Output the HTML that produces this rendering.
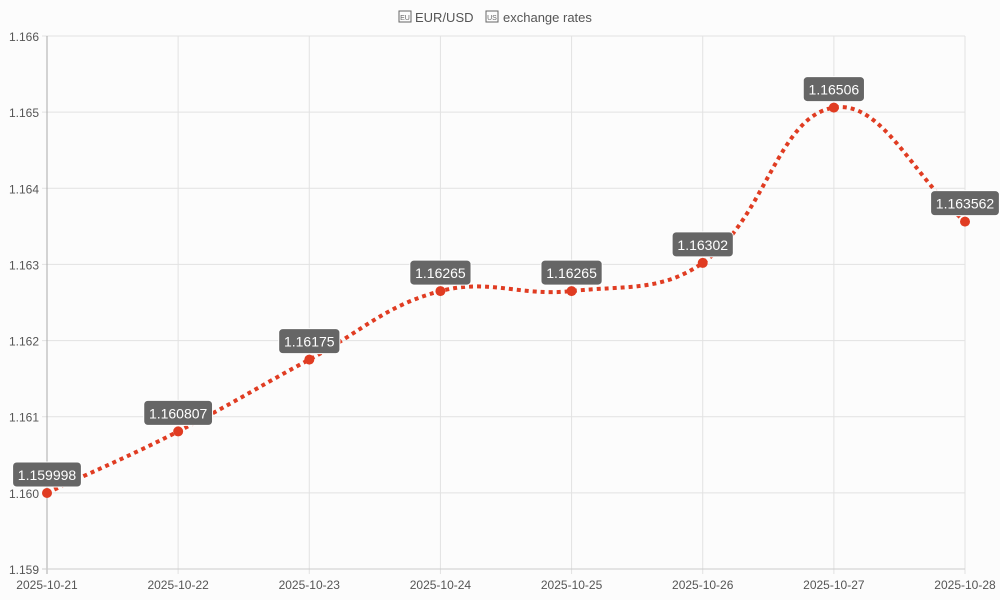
<!DOCTYPE html>
<html><head><meta charset="utf-8"><style>
html,body{margin:0;width:1000px;height:600px;overflow:hidden;background:#fcfcfc;font-family:"Liberation Sans",sans-serif}
svg{display:block}
svg text{font-family:"Liberation Sans",sans-serif}
</style></head><body>
<svg id="c" width="1000" height="600">
<rect width="1000" height="600" fill="#fcfcfc"/>
<g>
<rect x="399" y="11" width="12" height="11" fill="none" stroke="#666" stroke-width="1"/><text x="405" y="20" font-size="7" fill="#666" text-anchor="middle">EU</text>
<text x="415" y="22" font-size="13" fill="#555">EUR/USD</text>
<rect x="486" y="11" width="12" height="11" fill="none" stroke="#666" stroke-width="1"/><text x="492" y="20" font-size="7" fill="#666" text-anchor="middle">US</text>
<text x="503" y="22" font-size="13" fill="#555">exchange rates</text>
</g>
<g id="grid"></g><g id="marks"></g>
</svg>
<script>
const categories=["2025-10-21","2025-10-22","2025-10-23","2025-10-24","2025-10-25","2025-10-26","2025-10-27","2025-10-28"];
const values=[1.159998,1.160807,1.16175,1.16265,1.16265,1.16302,1.16506,1.163562];
const labels=["1.159998","1.160807","1.16175","1.16265","1.16265","1.16302","1.16506","1.163562"];
const yTicks=[1.159,1.160,1.161,1.162,1.163,1.164,1.165,1.166];
const X0=47,X1=965,Y0=569,Y1=36,ymin=1.159,ymax=1.166;
const xs=i=>X0+i*(X1-X0)/(categories.length-1);
const ys=v=>Y0-(v-ymin)/(ymax-ymin)*(Y0-Y1);
const NS="http://www.w3.org/2000/svg";
const grid=document.getElementById('grid'),marks=document.getElementById('marks');
function mk(t,a,p){const e=document.createElementNS(NS,t);for(const k in a)e.setAttribute(k,a[k]);p.appendChild(e);return e;}
yTicks.forEach(v=>{const y=ys(v);
const l=mk('line',{x1:X0-5,x2:X1,y1:y,y2:y,stroke:'#e2e2e2'},grid);


const t=mk('text',{x:39,y:y+5,'text-anchor':'end','font-size':12,fill:'#555'},grid);t.textContent=v.toFixed(3);

});
categories.forEach((c,i)=>{const x=xs(i);
const l=mk('line',{x1:x,x2:x,y1:Y1,y2:Y0+5,stroke:i==0?'#aaa':'#e2e2e2'},grid);


const t=mk('text',{x:x,y:589,'text-anchor':'middle','font-size':12,fill:'#555'},grid);t.textContent=c;

});
const ax=mk('line',{x1:X0-5,x2:X1,y1:Y0,y2:Y0,stroke:'#ccc'},grid);


const P=values.map((v,i)=>({x:xs(i),y:ys(v)}));const T=0.4;
function cp(p0,p1,p2){const d01=Math.hypot(p1.x-p0.x,p1.y-p0.y),d12=Math.hypot(p2.x-p1.x,p2.y-p1.y);
let fa=d01/(d01+d12)||0,fb=d12/(d01+d12)||0;fa*=T;fb*=T;
return{p:{x:p1.x-fa*(p2.x-p0.x),y:p1.y-fa*(p2.y-p0.y)},n:{x:p1.x+fb*(p2.x-p0.x),y:p1.y+fb*(p2.y-p0.y)}};}
const C=P.map((p,i)=>cp(P[Math.max(0,i-1)],p,P[Math.min(P.length-1,i+1)]));
let d=`M${P[0].x},${P[0].y}`;
for(let i=1;i<P.length;i++)d+=` C${C[i-1].n.x},${C[i-1].n.y} ${C[i].p.x},${C[i].p.y} ${P[i].x},${P[i].y}`;
const line=mk('path',{d:d,fill:'none',stroke:'#e03c22','stroke-width':4,'stroke-dasharray':'4 4'},marks);


P.forEach((p,i)=>{const c=mk('circle',{cx:p.x,cy:p.y,r:5,fill:'#e03c22'},marks);

});
P.forEach((p,i)=>{const w=labels[i].length*7.6+8;
const g=mk('g',{},marks);


mk('rect',{x:p.x-w/2,y:p.y-31,width:w,height:25,rx:4,fill:'#666',stroke:'#fff','stroke-width':1},g);
const t=mk('text',{x:p.x,y:p.y-13,'text-anchor':'middle','font-size':14,fill:'#fff'},g);t.textContent=labels[i];});
</script>
</body></html>
